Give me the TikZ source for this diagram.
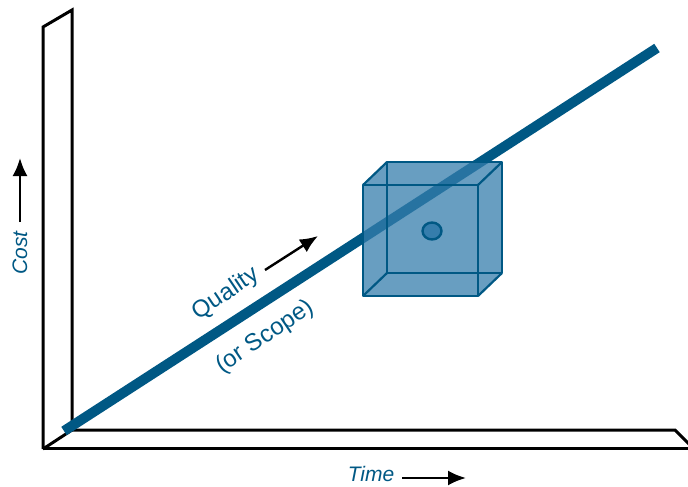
\documentclass[tikz,border=0pt]{standalone}
\usepackage{fontspec}
\setmainfont{Liberation Sans}
\usepackage{tikz}
\usetikzlibrary{arrows}
\usetikzlibrary{arrows.meta}
\usetikzlibrary{positioning}
\usetikzlibrary{shapes.geometric}
\tikzset{>={Latex[length=18pt,width=15pt]}}
\definecolor{qblue}{RGB}{0,88,132}
\definecolor{cubefill}{RGB}{53,125,172}
\tikzset{
    panel/.style={line width=3pt, black, line join=miter},
    axislabel/.style={text=qblue, font=\fontsize{21}{24}\selectfont\itshape, inner sep=0pt},
    qlabel/.style={text=qblue, font=\fontsize{24}{28}\selectfont, inner sep=0pt, rotate=34},
    edge/.style={qblue, line width=2.2pt, line join=round},
    dir/.style={-{Latex[length=18pt,width=15pt]}, line width=2.4pt},
}

\begin{document}
\begin{tikzpicture}[x=1pt, y=-1pt]
            \useasboundingbox (0,0) rectangle (688,487);
            % wall and floor
            \draw [panel] (43,449)--(43,27)--(72,10)--(72,430)--(675,430)--(690,445);
            \draw [panel] (43,449)--(72,430);
            \draw [panel] (43,448)--(690,448);
            % quality line
            \coordinate (qstart) at (64,431);
            \coordinate (qend) at (657,48);
            \draw [qblue, line width=10pt] (qstart)--(qend);
            % cube
            \coordinate (f1) at (363,185);
            \coordinate (f2) at (478,185);
            \coordinate (f3) at (478,296);
            \coordinate (f4) at (363,296);
            \coordinate (b1) at (387,162);
            \coordinate (b2) at (502,162);
            \coordinate (b3) at (502,273);
            \coordinate (b4) at (387,273);
            \fill [cubefill, opacity=0.75] (f1)--(b1)--(b2)--(b3)--(f3)--(f4)--cycle;
            \draw [edge] (f1)--(f2)--(f3)--(f4)--cycle;
            \draw [edge] (b1)--(b2)--(b3)--(b4)--cycle;
            \draw [edge] (f1)--(b1) (f2)--(b2) (f3)--(b3) (f4)--(b4);
            \node [draw=qblue, line width=2.4pt, fill=cubefill, ellipse, minimum width=19pt, minimum height=17pt, inner sep=0pt] (dot) at (432,231) {};
            % labels
            \node [qlabel] (quality) at (226,294) {Quality};
            \node [qlabel] (scope) at (265,337) {(or Scope)};
            \coordinate (qa1) at (265,270);
            \coordinate (qa2) at (318,236);
            \draw [dir] (qa1)--(qa2);
            \node [axislabel, rotate=90] (cost) at (20,253) {Cost};
            \coordinate (ca1) at (20,222);
            \coordinate (ca2) at (20,158);
            \draw [dir] (ca1)--(ca2);
            \node [axislabel] (time) at (371,474) {Time};
            \coordinate (ta1) at (402,478);
            \coordinate (ta2) at (466,478);
            \draw [dir] (ta1)--(ta2);
        \end{tikzpicture}
\end{document}
